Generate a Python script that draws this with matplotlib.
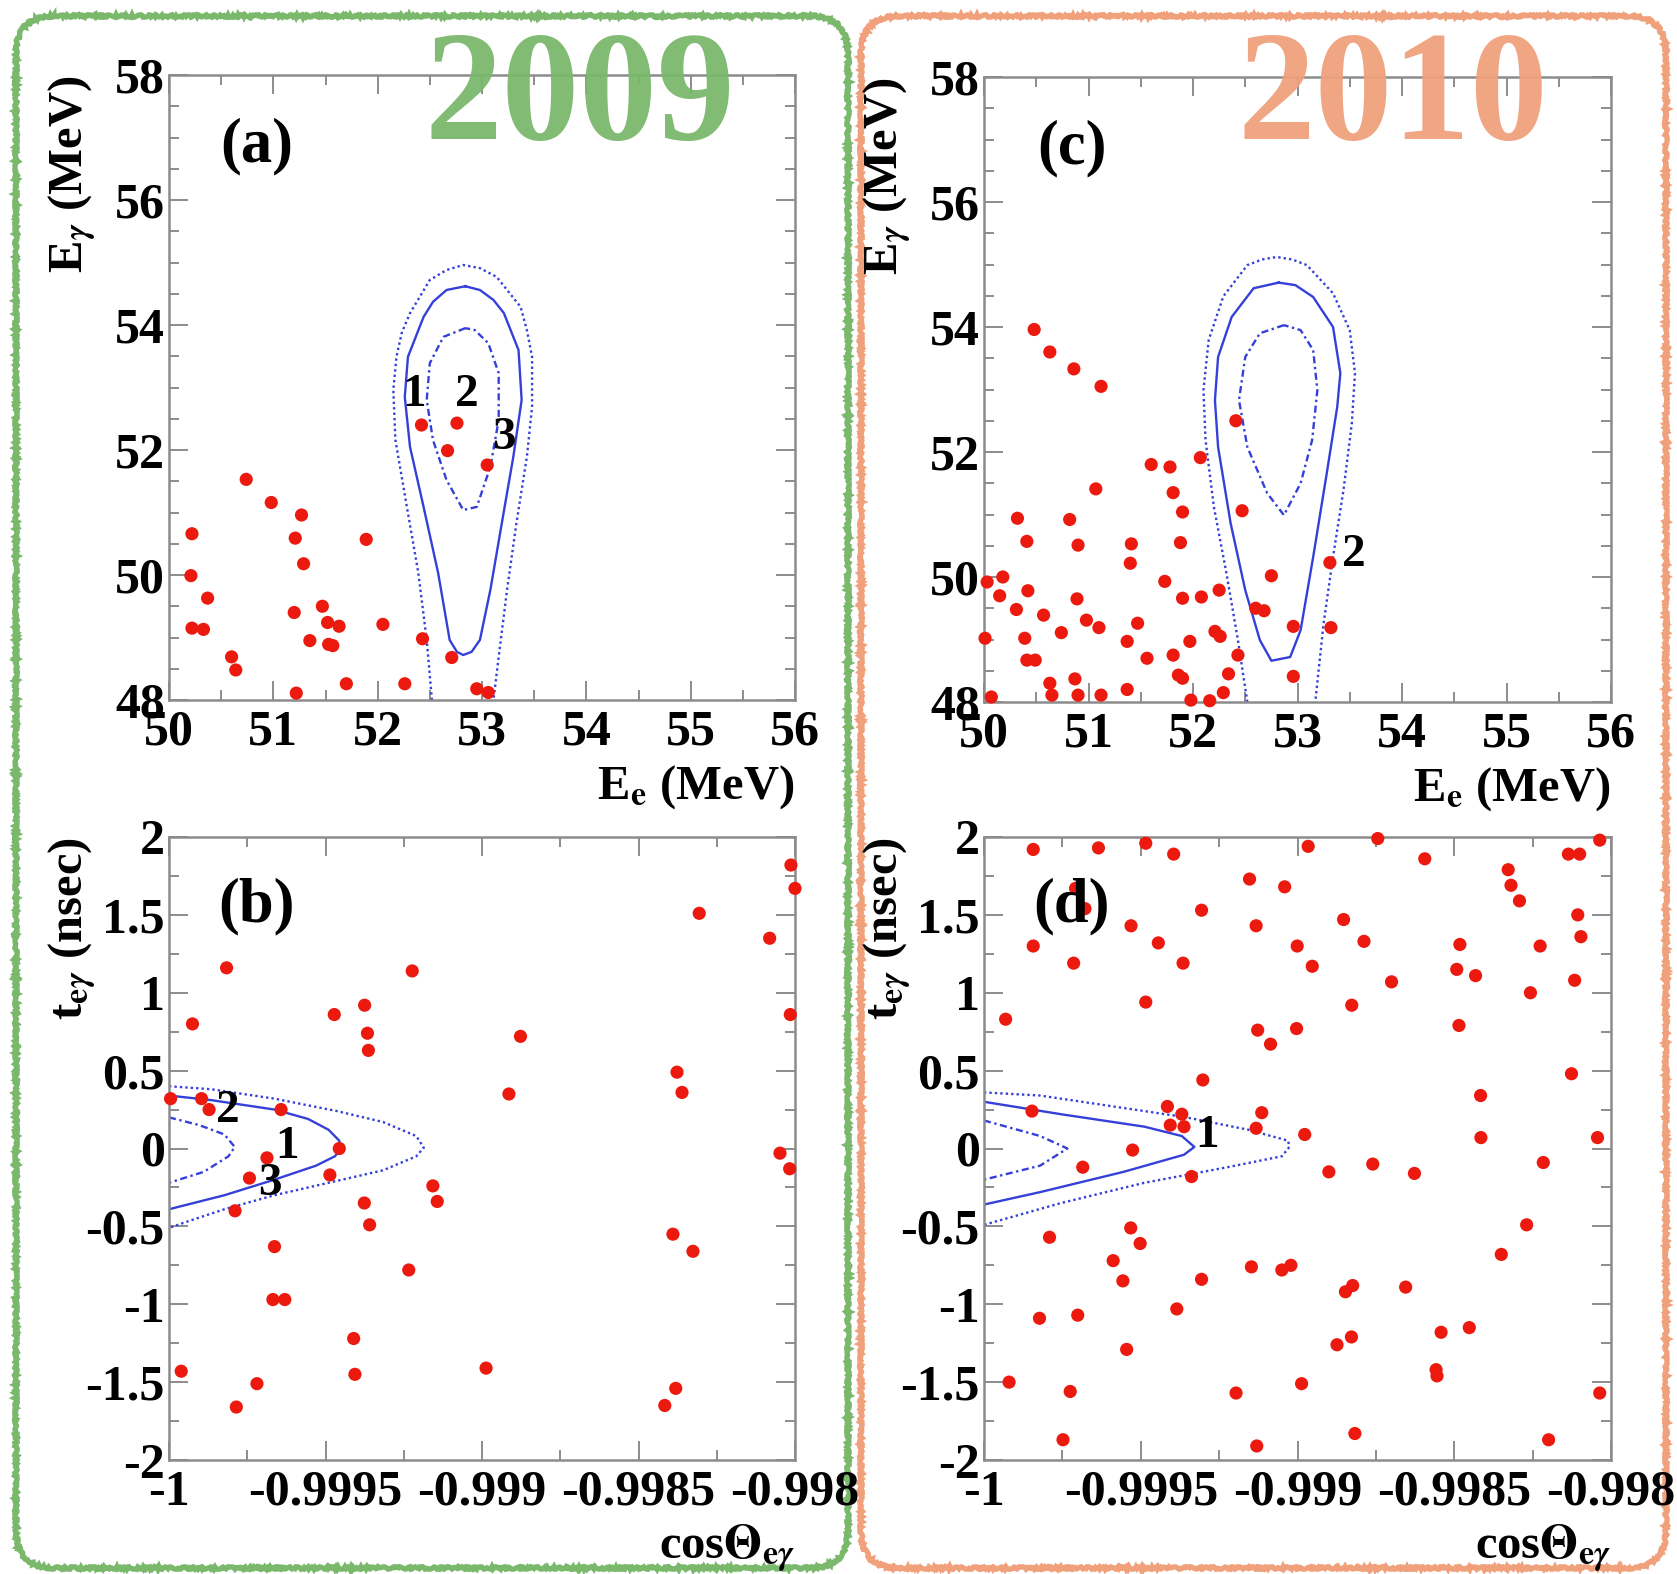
#!/usr/bin/env python3
"""
MEG candidate events, 2009 vs 2010 data.

Top row: E_gamma vs E_e, bottom row: t_e-gamma vs cos(Theta_e-gamma),
with signal PDF contours (1 sigma, 1.64 sigma, 2.45 sigma) and ranked events.
"""

import matplotlib
matplotlib.use("Agg")
import matplotlib.pyplot as plt
import matplotlib.patches as mpatches
from matplotlib.ticker import MultipleLocator, FixedLocator, FormatStrFormatter

W, H = 1677, 1574

plt.rcParams["font.family"] = ["Liberation Serif", "DejaVu Serif"]
plt.rcParams["font.weight"] = "bold"
plt.rcParams["mathtext.fontset"] = "stix"
plt.rcParams["axes.unicode_minus"] = False

GREEN = "#7ab86c"
ORANGE = "#f0a17c"
RED = "#ec1a0e"
BLUE = "#3440d8"
SPINE = "#8c8c8c"

# ---- 2009: E_e / E_gamma plane (MeV) ----
ee_2009 = [52.42, 52.76, 52.67, 53.05, 50.74, 50.98, 51.27, 50.22, 51.21, 51.89,
           51.29, 50.21, 50.37, 51.47, 51.20, 50.22, 50.33, 51.52, 51.63, 52.05,
           51.35, 51.53, 51.57, 52.43, 50.60, 50.64, 52.71, 51.70, 52.26, 51.22,
           52.95, 53.06]
eg_2009 = [52.40, 52.43, 51.99, 51.76, 51.53, 51.16, 50.96, 50.66, 50.59, 50.57,
           50.18, 49.99, 49.63, 49.50, 49.40, 49.15, 49.13, 49.24, 49.18, 49.21,
           48.95, 48.89, 48.87, 48.98, 48.69, 48.48, 48.68, 48.26, 48.26, 48.11,
           48.18, 48.12]

# ---- 2009: cos(Theta) / t_e-gamma plane (nsec) ----
cos_2009 = [-0.998013, -0.998000, -0.998306, -0.998081, -0.999816, -0.999223,
            -0.999375, -0.999472, -0.999925, -0.998015, -0.999366, -0.998877,
            -0.999363, -0.998377, -0.998361, -0.998914, -0.999995, -0.999896,
            -0.999872, -0.999642, -0.999456, -0.999687, -0.998048, -0.998017,
            -0.999743, -0.999486, -0.999157, -0.999143, -0.999376, -0.999789,
            -0.999359, -0.998390, -0.998326, -0.999663, -0.999234, -0.999668,
            -0.999630, -0.999410, -0.998987, -0.999961, -0.999406, -0.999719,
            -0.998381, -0.999785, -0.998416]
t_2009 = [1.82, 1.67, 1.51, 1.35, 1.16, 1.14, 0.92, 0.86, 0.80, 0.86,
          0.74, 0.72, 0.63, 0.49, 0.36, 0.35, 0.32, 0.32, 0.25, 0.25,
          0.00, -0.06, -0.03, -0.13, -0.19, -0.17, -0.24, -0.34, -0.35, -0.40,
          -0.49, -0.55, -0.66, -0.63, -0.78, -0.97, -0.97, -1.22, -1.41, -1.43,
          -1.45, -1.51, -1.54, -1.66, -1.65]

# ---- 2010: E_e / E_gamma plane (MeV) ----
ee_2010 = [50.48, 50.63, 50.86, 51.12, 52.41, 52.07, 51.60, 51.78, 51.81, 51.90,
           51.07, 52.47, 50.32, 50.82, 50.41, 50.90, 51.41, 51.88, 53.31, 51.40,
           50.03, 50.18, 51.73, 52.75, 50.15, 50.42, 50.89, 51.90, 52.08, 52.25,
           50.31, 50.57, 50.98, 51.10, 51.47, 52.60, 52.68, 50.01, 50.39, 50.74,
           51.37, 51.97, 52.21, 52.26, 52.96, 53.32, 50.41, 50.49, 51.56, 51.81,
           52.43, 51.86, 51.90, 52.34, 52.96, 50.63, 50.87, 50.07, 50.65, 50.90,
           51.12, 51.37, 51.98, 52.16, 52.29]
eg_2010 = [53.96, 53.60, 53.33, 53.05, 52.50, 51.91, 51.80, 51.76, 51.35, 51.04,
           51.41, 51.06, 50.94, 50.92, 50.57, 50.51, 50.53, 50.55, 50.23, 50.22,
           49.92, 50.00, 49.93, 50.02, 49.70, 49.78, 49.65, 49.66, 49.68, 49.79,
           49.48, 49.39, 49.31, 49.19, 49.26, 49.50, 49.46, 49.02, 49.02, 49.11,
           48.97, 48.97, 49.13, 49.05, 49.21, 49.19, 48.67, 48.67, 48.70, 48.75,
           48.75, 48.43, 48.38, 48.45, 48.41, 48.30, 48.37, 48.08, 48.11, 48.11,
           48.11, 48.20, 48.03, 48.02, 48.15]

# ---- 2010: cos(Theta) / t_e-gamma plane (nsec) ----
cos_2010 = [-0.999843, -0.999635, -0.999484, -0.999395, -0.998966, -0.998744,
            -0.998594, -0.998036, -0.998136, -0.998100, -0.998328, -0.998319,
            -0.998292, -0.999153, -0.999041, -0.999708, -0.999678, -0.999306,
            -0.998106, -0.999531, -0.999132, -0.998853, -0.999843, -0.999444,
            -0.999001, -0.998788, -0.998482, -0.998226, -0.998096, -0.999714,
            -0.999365, -0.998953, -0.998492, -0.998432, -0.998700, -0.998116,
            -0.998257, -0.999484, -0.998827, -0.999931, -0.999127, -0.999003,
            -0.998485, -0.999086, -0.999302, -0.998126, -0.998416, -0.999415,
            -0.999369, -0.999847, -0.999114, -0.999406, -0.999362, -0.999132,
            -0.998977, -0.998415, -0.998043, -0.999526, -0.999685, -0.999338,
            -0.998900, -0.998760, -0.998627, -0.998216, -0.999791, -0.999532,
            -0.999502, -0.998269, -0.998350, -0.999588, -0.999557, -0.999306,
            -0.999147, -0.999050, -0.999021, -0.998847, -0.998824, -0.998655,
            -0.999823, -0.999701, -0.999385, -0.998542, -0.998452, -0.999545,
            -0.998874, -0.998828, -0.999920, -0.999725, -0.999196, -0.998987,
            -0.998558, -0.998555, -0.998036, -0.999748, -0.999130, -0.998817,
            -0.998199]
t_2010 = [1.92, 1.93, 1.96, 1.89, 1.94, 1.99, 1.86, 1.98, 1.89, 1.89,
          1.79, 1.69, 1.59, 1.73, 1.68, 1.67, 1.54, 1.53, 1.50, 1.43,
          1.43, 1.47, 1.30, 1.32, 1.30, 1.33, 1.31, 1.30, 1.36, 1.19,
          1.19, 1.17, 1.15, 1.11, 1.07, 1.08, 1.00, 0.94, 0.92, 0.83,
          0.76, 0.77, 0.79, 0.67, 0.44, 0.48, 0.34, 0.27, 0.22, 0.24,
          0.23, 0.15, 0.14, 0.13, 0.09, 0.07, 0.07, -0.01, -0.12, -0.18,
          -0.15, -0.10, -0.16, -0.09, -0.57, -0.51, -0.61, -0.49, -0.68, -0.72,
          -0.85, -0.84, -0.76, -0.78, -0.75, -0.92, -0.88, -0.89, -1.09, -1.07,
          -1.03, -1.18, -1.15, -1.29, -1.26, -1.21, -1.50, -1.56, -1.57, -1.51,
          -1.42, -1.46, -1.57, -1.87, -1.91, -1.83, -1.87]

# ---- signal PDF contours, E_e / E_gamma plane ----
# 2009
c09_e_outer = [52.52, 52.47, 52.39, 52.28, 52.17, 52.15, 52.18, 52.23, 52.31, 52.50,
               52.66, 52.82, 52.98, 53.14, 53.37, 53.43, 53.48, 53.48, 53.43, 53.33,
               53.24, 53.16, 53.11]
c09_g_outer = [48.00, 48.96, 50.03, 51.09, 52.16, 52.96, 53.49, 53.87, 54.19, 54.72,
               54.88, 54.96, 54.91, 54.77, 54.29, 53.92, 53.49, 52.69, 51.89, 50.83,
               49.76, 48.69, 48.00]
c09_e_mid = [52.84, 52.66, 52.53, 52.44, 52.29, 52.26, 52.31, 52.44, 52.58, 52.69,
             52.76, 52.82, 52.90, 52.98, 53.08, 53.19, 53.30, 53.38, 53.35, 53.21,
             53.11, 52.98, 52.84]
c09_g_mid = [54.62, 54.56, 54.37, 54.13, 53.49, 52.85, 52.05, 51.09, 50.03, 48.96,
             48.77, 48.72, 48.77, 48.96, 49.76, 50.83, 51.89, 52.80, 53.60, 54.19,
             54.40, 54.56, 54.62]
c09_e_inner = [52.84, 52.63, 52.50, 52.47, 52.53, 52.66, 52.82, 52.95, 53.08, 53.16,
               53.16, 53.06, 52.93, 52.84]
c09_g_inner = [53.95, 53.81, 53.39, 52.80, 52.16, 51.52, 51.04, 51.09, 51.73, 52.48,
               53.23, 53.71, 53.92, 53.95]
# 2010
c10_e_outer = [52.52, 52.43, 52.32, 52.20, 52.12, 52.10, 52.15, 52.29, 52.52, 52.66,
               52.80, 52.95, 53.09, 53.34, 53.50, 53.55, 53.52, 53.44, 53.34, 53.25,
               53.17]
c10_g_outer = [48.00, 48.99, 50.06, 51.12, 52.19, 52.99, 53.79, 54.49, 54.99, 55.08,
               55.12, 55.08, 54.99, 54.54, 53.95, 53.26, 52.46, 51.39, 50.32, 49.26,
               48.00]
c10_e_mid = [52.82, 52.58, 52.37, 52.24, 52.21, 52.24, 52.36, 52.50, 52.64, 52.75,
             52.93, 53.03, 53.15, 53.28, 53.38, 53.41, 53.34, 53.15, 52.98, 52.82]
c10_g_mid = [54.71, 54.62, 54.16, 53.52, 52.83, 52.08, 50.86, 49.79, 48.99, 48.66,
             48.72, 49.15, 50.32, 51.66, 52.72, 53.26, 54.00, 54.48, 54.67, 54.71]
c10_e_inner = [52.87, 52.64, 52.50, 52.44, 52.52, 52.71, 52.87, 53.03, 53.14, 53.19,
               53.15, 53.03, 52.87]
c10_g_inner = [54.03, 53.90, 53.52, 52.83, 52.08, 51.34, 50.99, 51.50, 52.19, 52.99,
               53.63, 53.95, 54.03]

# ---- signal PDF contours, cos(Theta) / t plane ----
# 2009
t09_c_outer = [-1.0, -0.999863, -0.999663, -0.999463, -0.999316, -0.999210, -0.999186,
               -0.999210, -0.999316, -0.999490, -0.999663, -0.999823, -0.999943, -1.0]
t09_t_outer = [0.40, 0.38, 0.32, 0.24, 0.17, 0.08, 0.005,
               -0.05, -0.14, -0.22, -0.30, -0.39, -0.47, -0.51]
t09_c_mid = [-1.0, -0.999863, -0.999663, -0.999556, -0.999490, -0.999456, -0.999450,
             -0.999470, -0.999530, -0.999663, -0.999823, -1.0]
t09_t_mid = [0.34, 0.31, 0.25, 0.19, 0.12, 0.05, 0.0, -0.05, -0.11, -0.20, -0.30, -0.39]
t09_c_inner = [-1.0, -0.999903, -0.999823, -0.999790, -0.999810, -0.999889, -1.0]
t09_t_inner = [0.20, 0.15, 0.09, 0.01, -0.05, -0.15, -0.22]
# 2010
t10_c_outer = [-1.0, -0.999821, -0.999621, -0.999355, -0.999156, -0.999030, -0.999026,
               -0.999050, -0.999223, -0.999488, -0.999754, -1.0]
t10_t_outer = [0.36, 0.34, 0.28, 0.20, 0.12, 0.05, 0.01, -0.05, -0.12, -0.22, -0.35, -0.49]
t10_c_mid = [-1.0, -0.999754, -0.999488, -0.999369, -0.999329, -0.999362, -0.999555,
             -0.999821, -1.0]
t10_t_mid = [0.30, 0.22, 0.14, 0.08, 0.01, -0.04, -0.15, -0.28, -0.36]
t10_c_inner = [-1.0, -0.999821, -0.999734, -0.999821, -1.0]
t10_t_inner = [0.18, 0.08, 0.0, -0.11, -0.20]

# ranked event labels: (text, x, y)
rank_a = [("1", 52.35, 52.88), ("2", 52.85, 52.88), ("3", 53.21, 52.20)]
rank_b = [("2", -0.999812, 0.24), ("1", -0.999624, 0.01), ("3", -0.999679, -0.23)]
rank_c = [("2", 53.54, 50.36)]
rank_d = [("1", -0.99929, 0.08)]

e_ticks = [50, 51, 52, 53, 54, 55, 56]
eg_ticks = [48, 50, 52, 54, 56, 58]
cos_ticks = [-1, -0.9995, -0.999, -0.9985, -0.998]
t_ticks = [-2, -1.5, -1, -0.5, 0, 0.5, 1, 1.5, 2]


def px_rect(left, top, right, bottom):
    return [left / W, 1 - bottom / H, (right - left) / W, (bottom - top) / H]


def style_axes(ax):
    for sp in ax.spines.values():
        sp.set_color(SPINE)
        sp.set_linewidth(1.8)
    ax.tick_params(which="both", direction="in", top=True, right=True,
                   color=SPINE, width=1.4, labelsize=36)
    ax.tick_params(which="major", length=13.5)
    ax.tick_params(which="minor", length=7.5)
    ax.tick_params(axis="x", pad=7)
    ax.tick_params(axis="y", pad=3)
    for lab in ax.get_xticklabels() + ax.get_yticklabels():
        lab.set_fontweight("bold")


def draw_contours(ax, xs, ys):
    (xo, yo), (xm, ym), (xi, yi) = zip(xs, ys)
    ax.plot(xo, yo, color=BLUE, lw=1.7, ls=(0, (1, 1.3)), zorder=2)
    ax.plot(xm, ym, color=BLUE, lw=1.7, ls="-", zorder=2)
    ax.plot(xi, yi, color=BLUE, lw=1.7, ls=(0, (3, 1.5, 1, 1.5)), zorder=2)


def add_titles(ax, tag, tag_y, xlabel, ylabel):
    ax.text(0.14, tag_y, tag, transform=ax.transAxes, fontsize=45,
            fontweight="bold", ha="center", va="center")
    ax.text(1.0, -0.157, xlabel, transform=ax.transAxes,
            fontsize=35, fontweight="bold", ha="right", va="baseline")
    ax.text(-0.155, 1.0, ylabel, transform=ax.transAxes,
            fontsize=35, fontweight="bold", rotation=90, rotation_mode="anchor",
            ha="right", va="center")


def energy_panel(ax, ee, eg, contours, ranks, tag):
    draw_contours(ax, contours[0], contours[1])
    ax.scatter(ee, eg, s=90, c=RED, edgecolors="none", zorder=3, clip_on=False)
    for txt, x, y in ranks:
        ax.text(x, y, txt, fontsize=34, fontweight="bold", ha="center", va="center", zorder=4)
    ax.set_xlim(50, 56)
    ax.set_ylim(48, 58)
    ax.xaxis.set_major_locator(FixedLocator(e_ticks))
    ax.xaxis.set_minor_locator(MultipleLocator(0.5))
    ax.yaxis.set_major_locator(FixedLocator(eg_ticks))
    ax.yaxis.set_minor_locator(MultipleLocator(0.5))
    ax.xaxis.set_major_formatter(FormatStrFormatter("%g"))
    ax.yaxis.set_major_formatter(FormatStrFormatter("%g"))
    style_axes(ax)
    add_titles(ax, tag, 0.885, r"E$_{\mathbf{e}}$ (MeV)", r"E$_{\gamma}$ (MeV)")


def timing_panel(ax, cs, ts, contours, ranks, tag):
    draw_contours(ax, contours[0], contours[1])
    ax.scatter(cs, ts, s=90, c=RED, edgecolors="none", zorder=3, clip_on=False)
    for txt, x, y in ranks:
        ax.text(x, y, txt, fontsize=34, fontweight="bold", ha="center", va="center", zorder=4)
    ax.set_xlim(-1, -0.998)
    ax.set_ylim(-2, 2)
    ax.xaxis.set_major_locator(FixedLocator(cos_ticks))
    ax.xaxis.set_minor_locator(MultipleLocator(0.00025))
    ax.yaxis.set_major_locator(FixedLocator(t_ticks))
    ax.yaxis.set_minor_locator(MultipleLocator(0.25))
    ax.xaxis.set_major_formatter(FormatStrFormatter("%g"))
    ax.yaxis.set_major_formatter(FormatStrFormatter("%g"))
    style_axes(ax)
    add_titles(ax, tag, 0.888, r"cos$\Theta_{\mathbf{e}\gamma}$",
               r"t$_{\mathbf{e}\gamma}$ (nsec)")


def main():
    fig = plt.figure(figsize=(W / 100, H / 100), dpi=100, facecolor="white")

    # background layer in pixel units for the two year frames
    bg = fig.add_axes([0, 0, 1, 1], zorder=-1)
    bg.set_xlim(0, W)
    bg.set_ylim(H, 0)
    bg.axis("off")
    for (x0, x1), color in [((16, 848), GREEN), ((861, 1666), ORANGE)]:
        frame = mpatches.FancyBboxPatch(
            (x0, 16), x1 - x0, 1552,
            boxstyle="round,pad=0,rounding_size=38",
            facecolor="none", edgecolor=color, linewidth=3.8)
        frame.set_sketch_params(scale=1.2, length=4, randomness=8)
        bg.add_patch(frame)

    ax_a = fig.add_axes(px_rect(169, 75, 795, 700))
    ax_b = fig.add_axes(px_rect(169, 837, 795, 1460))
    ax_c = fig.add_axes(px_rect(984, 77, 1611, 702))
    ax_d = fig.add_axes(px_rect(984, 837, 1611, 1460))

    energy_panel(ax_a, ee_2009, eg_2009,
                 ([c09_e_outer, c09_e_mid, c09_e_inner],
                  [c09_g_outer, c09_g_mid, c09_g_inner]), rank_a, "(a)")
    timing_panel(ax_b, cos_2009, t_2009,
                 ([t09_c_outer, t09_c_mid, t09_c_inner],
                  [t09_t_outer, t09_t_mid, t09_t_inner]), rank_b, "(b)")
    energy_panel(ax_c, ee_2010, eg_2010,
                 ([c10_e_outer, c10_e_mid, c10_e_inner],
                  [c10_g_outer, c10_g_mid, c10_g_inner]), rank_c, "(c)")
    timing_panel(ax_d, cos_2010, t_2010,
                 ([t10_c_outer, t10_c_mid, t10_c_inner],
                  [t10_t_outer, t10_t_mid, t10_t_inner]), rank_d, "(d)")

    # year tags on top of everything
    fig.text(580 / W, 1 - 139 / H, "2009", color=GREEN, fontsize=112,
             fontweight="bold", ha="center", va="baseline", zorder=10, alpha=0.95)
    fig.text(1393 / W, 1 - 139 / H, "2010", color=ORANGE, fontsize=112,
             fontweight="bold", ha="center", va="baseline", zorder=10, alpha=0.95)

    fig.savefig("out.png", dpi=100, facecolor="white")
    plt.close(fig)


if __name__ == "__main__":
    main()
